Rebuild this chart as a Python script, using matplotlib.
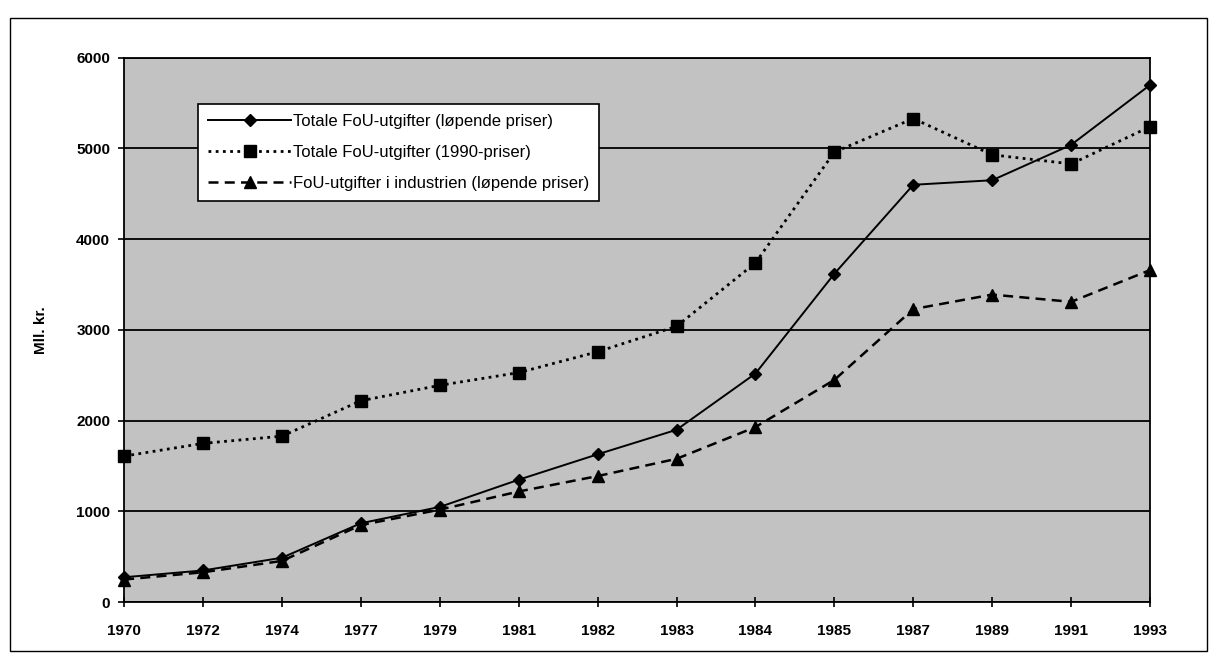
import matplotlib
matplotlib.use('Agg')
import matplotlib.pyplot as plt
from matplotlib.patches import Rectangle

# Data
years = ['1970', '1972', '1974', '1977', '1979', '1981', '1982',
         '1983', '1984', '1985', '1987', '1989', '1991', '1993']
lopende = [275, 350, 490, 870, 1050, 1350, 1630, 1900, 2520, 3620,
           4600, 4650, 5040, 5700]
fast_1990 = [1610, 1750, 1830, 2220, 2390, 2530, 2760, 3040, 3740, 4960,
             5330, 4930, 4830, 5240]
industri = [250, 330, 455, 850, 1020, 1220, 1390, 1580, 1930, 2450,
            3230, 3390, 3310, 3660]

labels = ['Totale FoU-utgifter (løpende priser)',
          'Totale FoU-utgifter (1990-priser)',
          'FoU-utgifter i industrien (løpende priser)']
yticks = [0, 1000, 2000, 3000, 4000, 5000, 6000]

plt.rcParams['font.family'] = ['Liberation Sans', 'DejaVu Sans']

fig = plt.figure(figsize=(12.17, 6.56), dpi=100)
ax = fig.add_axes([0.102, 0.082, 0.843, 0.830])

# outer frame of the scanned figure
fig.patches.append(Rectangle((0.008, 0.008), 0.984, 0.965, transform=fig.transFigure,
                             fill=False, edgecolor='black', lw=1.0))

x = list(range(len(years)))
ax.plot(x, lopende, color='black', lw=1.4, ls='-', marker='D', ms=6.5,
        label=labels[0], zorder=4, clip_on=False)
ax.plot(x, fast_1990, color='black', lw=2.0, ls=(0, (1, 1.6)), marker='s', ms=8.5,
        label=labels[1], zorder=4, clip_on=False)
ax.plot(x, industri, color='black', lw=1.8, ls=(0, (4, 2.5)), marker='^', ms=8,
        label=labels[2], zorder=4, clip_on=False)

ax.set_facecolor('#c2c2c2')
ax.set_xlim(0, len(years) - 1)
ax.set_ylim(0, 6000)
ax.set_xticks(x)
ax.set_xticklabels(years)
ax.set_yticks(yticks)
ax.yaxis.grid(True, color='black', lw=1.3)
ax.set_axisbelow(True)
for s in ax.spines.values():
    s.set_linewidth(1.3)
ax.tick_params(axis='x', direction='inout', length=7, width=1.2, labelsize=11, pad=12)
ax.tick_params(axis='y', direction='out', length=4, width=1.2, labelsize=11, pad=6)
for lbl in ax.get_xticklabels() + ax.get_yticklabels():
    lbl.set_fontweight('bold')
ax.set_ylabel('Mll. kr.', fontsize=11, fontweight='bold', labelpad=20)

leg = ax.legend(loc='upper left', bbox_to_anchor=(0.064, 0.93), frameon=True,
                fancybox=False, edgecolor='black', framealpha=1, facecolor='white',
                fontsize=12, handlelength=5.0, handletextpad=0.1,
                borderpad=0.6, labelspacing=0.95)
leg.get_frame().set_linewidth(1.2)

plt.savefig('out.png', dpi=100)
plt.close()
